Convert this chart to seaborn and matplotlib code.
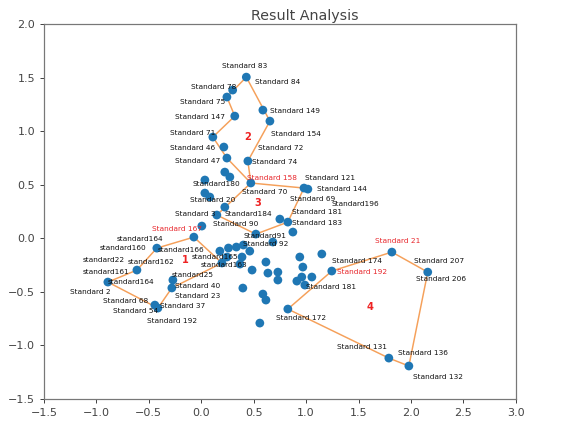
import matplotlib
matplotlib.use("Agg")
import matplotlib.pyplot as plt
import seaborn as sns
import pandas as pd

# ---- data: scatter points ----
pt_x = [0.43, 0.30, 0.245, 0.32, 0.588, 0.655, 0.111, 0.216, 0.245, 0.445, 0.473,
        0.225, 0.273, 0.035, 0.035, 0.082, 0.225, 0.149, 0.006, 0.98, 1.017,
        0.75, 0.826, 0.874, 0.521, 0.683,
        -0.07, -0.423, -0.613, -0.89, -0.442, -0.413, -0.27, -0.28, 0.197,
        0.178, 0.26, 0.335, 0.402, 0.463, 0.246, 0.389, 0.37, 0.485, 0.617,
        0.636, 0.731, 0.731, 0.94, 0.969, 1.15, 0.959, 0.912, 1.055, 0.988,
        1.245, 0.397, 0.588, 0.617, 0.559, 0.826,
        1.818, 2.16, 1.98, 1.789]
pt_y = [1.505, 1.384, 1.319, 1.141, 1.197, 1.094, 0.945, 0.852, 0.749, 0.721, 0.516,
        0.618, 0.572, 0.544, 0.422, 0.385, 0.291, 0.217, 0.114, 0.469, 0.459,
        0.179, 0.151, 0.058, 0.039, -0.035,
        0.011, -0.092, -0.297, -0.409, -0.624, -0.652, -0.39, -0.464, -0.231,
        -0.12, -0.091, -0.082, -0.063, -0.12, -0.175, -0.175, -0.241, -0.297, -0.222,
        -0.325, -0.316, -0.39, -0.175, -0.269, -0.147, -0.362, -0.40, -0.362, -0.437,
        -0.306, -0.465, -0.521, -0.577, -0.792, -0.661,
        -0.129, -0.316, -1.193, -1.119]

# ---- cluster outlines (indices into points) ----
cluster1 = [26, 27, 28, 29, 31, 33, 34, 26]
cluster2 = [0, 2, 3, 6, 8, 10, 9, 5, 0]
cluster3 = [10, 19, 22, 24, 17, 10]
cluster4 = [61, 62, 63, 64, 60, 55, 61]

# ---- labels ----
lab_text = ["Standard 83", "Standard 84", "Standard 78", "Standard 75", "Standard 147",
            "Standard 149", "Standard 154", "Standard 71", "Standard 46", "Standard 72",
            "Standard 47", "Standard 74", "Standard 158", "Standard 121", "Standard 144",
            "Standard180", "Standard 70", "Standard 69", "Standard196", "Standard 20",
            "Standard 181", "Standard 3", "Standard184", "Standard 183", "Standard 90",
            "Standard91", "Standard 92", "Standard 167", "standard164", "standard160",
            "standard166", "standard22", "standard162", "standard165", "standard163",
            "standard161", "standard164", "Standard 2", "standard25", "Standard 40",
            "Standard 23", "Standard 68", "Standard 37", "Standard 54", "Standard 192",
            "Standard 21", "Standard 174", "Standard 207", "Standard 192", "Standard 206",
            "Standard 181", "Standard 172", "Standard 131", "Standard 136", "Standard 132"]
lab_x = [0.198, 0.511, -0.097, -0.2, -0.251, 0.655, 0.664, -0.299, -0.299, 0.54,
         -0.251, 0.483, 0.435, 0.988, 1.102, -0.08, 0.387, 0.845, 1.245, -0.108,
         0.864, -0.251, 0.225, 0.864, 0.111, 0.407, 0.397, -0.47, -0.804, -0.966,
         -0.413, -1.128, -0.699, -0.089, -0.003, -1.128, -0.89, -1.252, -0.28, -0.251,
         -0.251, -0.937, -0.394, -0.842, -0.518, 1.655, 1.245, 2.026, 1.293, 2.046,
         0.998, 0.712, 1.293, 1.875, 2.018]
lab_y = [1.608, 1.459, 1.412, 1.272, 1.132, 1.188, 0.973, 0.982, 0.842, 0.842,
         0.721, 0.711, 0.562, 0.562, 0.459, 0.506, 0.432, 0.366, 0.319, 0.357,
         0.245, 0.228, 0.228, 0.142, 0.133, 0.021, -0.054, 0.086, -0.007, -0.091,
         -0.11, -0.203, -0.222, -0.172, -0.25, -0.315, -0.409, -0.502, -0.343, -0.446,
         -0.54, -0.586, -0.633, -0.68, -0.773, -0.026, -0.213, -0.213, -0.316, -0.381,
         -0.456, -0.745, -1.016, -1.072, -1.296]
red_labels = {"Standard 158", "Standard 167", "Standard 21"}
red_index = {48}

cl_names = ["1", "2", "3", "4"]
cl_x = [-0.156, 0.445, 0.54, 1.607]
cl_y = [-0.203, 0.945, 0.325, -0.642]

x_ticks = [-1.5, -1.0, -0.5, 0.0, 0.5, 1.0, 1.5, 2.0, 2.5, 3.0]
y_ticks = [-1.5, -1.0, -0.5, 0.0, 0.5, 1.0, 1.5, 2.0]

# ---- plot ----
sns.set_style("white")
plt.rcParams['font.family'] = ['DejaVu Sans']
dpi = 89
fig = plt.figure(figsize=(570 / dpi, 423 / dpi), dpi=dpi)
ax = fig.add_axes([0.077, 0.057, 0.828, 0.886])

df = pd.DataFrame({"x": pt_x, "y": pt_y})
for poly in [cluster1, cluster2, cluster3, cluster4]:
    pdf = df.iloc[poly].reset_index(drop=True)
    ax.plot(pdf["x"], pdf["y"], color="#f5a05a", lw=1.2, zorder=1)

sns.scatterplot(data=df, x="x", y="y", color="#1f77b4", s=50, edgecolor="none",
                ax=ax, zorder=2)

for i, (t, x, y) in enumerate(zip(lab_text, lab_x, lab_y)):
    c = "#e8262b" if (t in red_labels or i in red_index) else "#111111"
    ax.text(x, y, t, fontsize=6.0, color=c, ha="left", va="center", zorder=3)

for t, x, y in zip(cl_names, cl_x, cl_y):
    ax.text(x, y, t, fontsize=8.0, color="#ee2222", fontweight="bold",
            ha="center", va="center", zorder=3)

ax.set_xlim(-1.5, 3.0)
ax.set_ylim(-1.5, 2.0)
ax.set_xticks(x_ticks)
ax.set_yticks(y_ticks)
ax.set_xlabel("")
ax.set_ylabel("")
ax.tick_params(axis="both", labelsize=9, colors="#444444", length=3.5,
               direction="out", bottom=True, left=True)
for sp in ax.spines.values():
    sp.set_color("#777777")
    sp.set_linewidth(1.0)
ax.set_title("Result Analysis", fontsize=11.5, color="#444444", pad=3, x=0.553)

fig.savefig("out.png", dpi=dpi)
